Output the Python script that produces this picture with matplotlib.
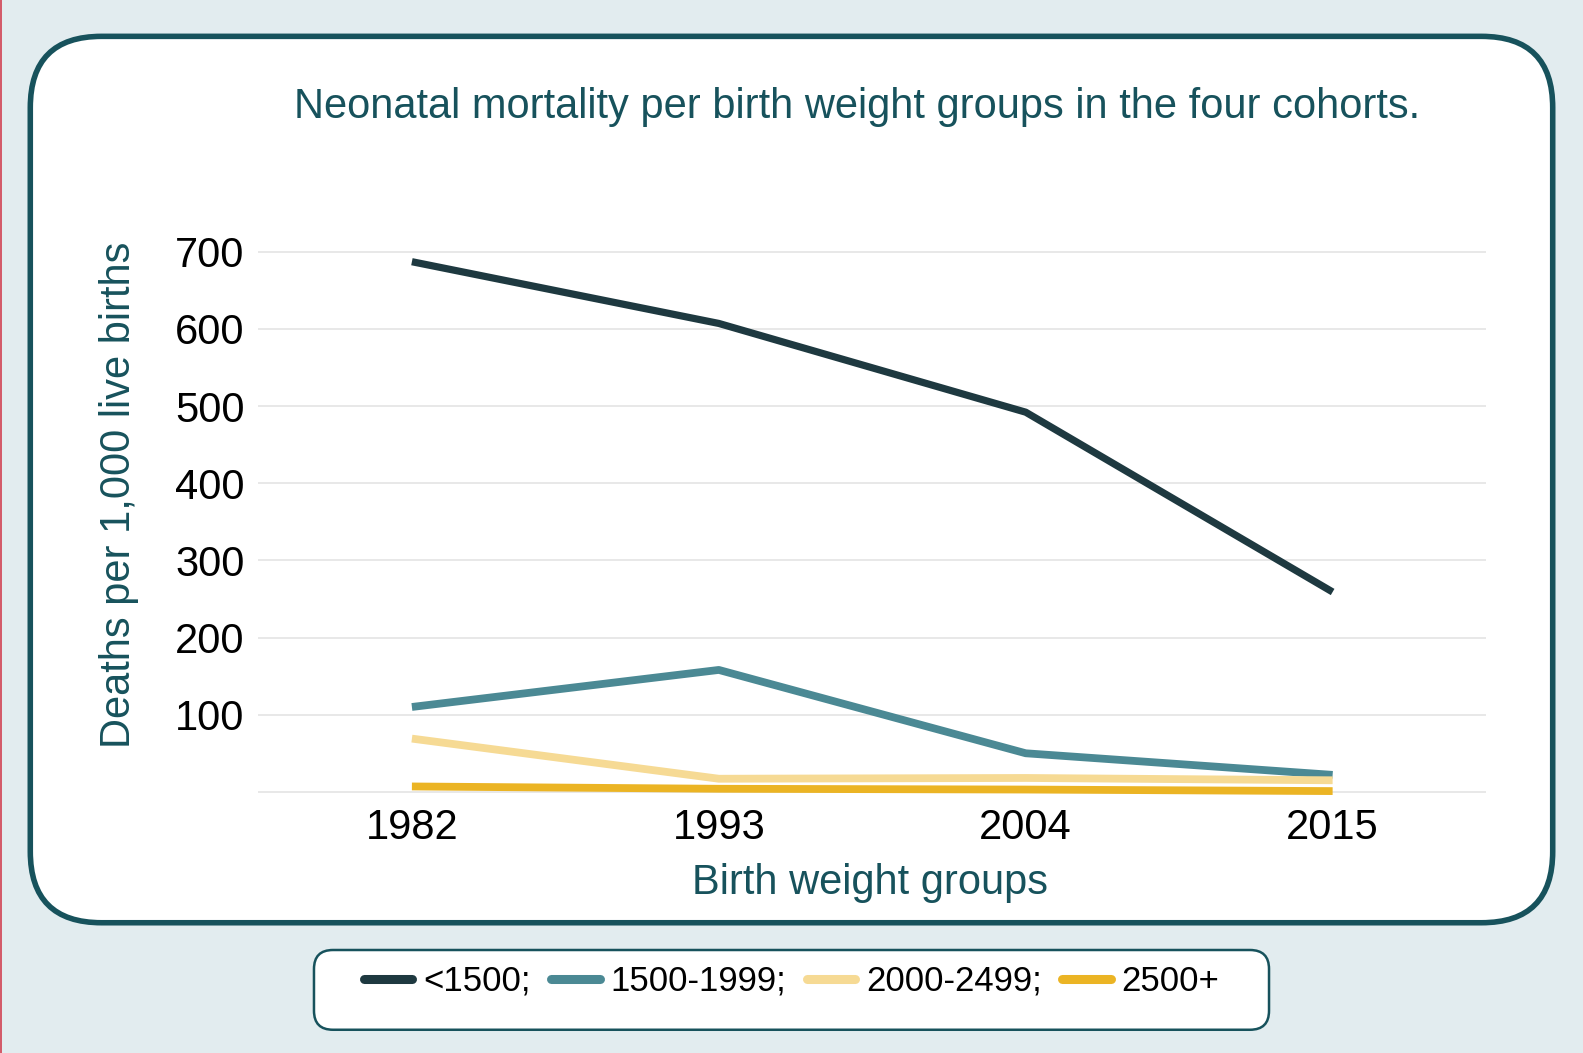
import matplotlib
matplotlib.use("Agg")
import matplotlib.pyplot as plt
from matplotlib.patches import FancyBboxPatch
from matplotlib.lines import Line2D

plt.rcParams['font.family'] = ['Liberation Sans', 'DejaVu Sans']

years = ["1982", "1993", "2004", "2015"]
groups = ["<1500;", "1500-1999;", "2000-2499;", "2500+"]
under_1500 = [687, 607, 492, 259]
w1500_1999 = [110, 158, 50, 22]
w2000_2499 = [69, 17, 18, 15]
w2500_plus = [7, 4, 3, 1]
yticks = [100, 200, 300, 400, 500, 600, 700]

series = [under_1500, w1500_1999, w2000_2499, w2500_plus]
colors = ["#1e3940", "#4b8994", "#f6da94", "#ebb424"]
widths = [5.2, 5.6, 5.6, 5.6]
teal = "#17525c"

W, H = 1583, 1053
S = 1583 / 1568  # pixel readings were taken on a 1568-wide view


def fx(px):
    return px * S / W


def fy(py):
    return 1 - py * S / H


fig = plt.figure(figsize=(W / 100, H / 100), dpi=100)
fig.patch.set_facecolor("#e2ecef")

# thin red edge on the far left of the original
fig.add_artist(Line2D([0.0008, 0.0008], [0, 1], color="#d04050", lw=1.2,
                      transform=fig.transFigure, zorder=-3))

# main rounded panel
panel = FancyBboxPatch((fx(30), fy(914)), fx(1538) - fx(30), fy(36) - fy(914),
                       boxstyle="round,pad=0,rounding_size=0.045",
                       transform=fig.transFigure, facecolor="white",
                       edgecolor=teal, linewidth=4, mutation_aspect=W / H,
                       zorder=-2)
fig.add_artist(panel)

# legend box
lbox = FancyBboxPatch((fx(311), fy(1020)), fx(1257) - fx(311), fy(941) - fy(1020),
                      boxstyle="round,pad=0,rounding_size=0.012",
                      transform=fig.transFigure, facecolor="white",
                      edgecolor=teal, linewidth=1.8, mutation_aspect=W / H,
                      zorder=-2)
fig.add_artist(lbox)

y_bot, y_top = 792, 234
ax = fig.add_axes([fx(256), fy(y_bot), fx(1472) - fx(256), fy(y_top) - fy(y_bot)])
ax.set_zorder(2)
ax.set_facecolor("none")
x = range(len(years))
for vals, c, lw in zip(series, colors, widths):
    ax.plot(x, vals, color=c, lw=lw, solid_capstyle="butt", clip_on=False)

ax.set_xlim(-0.5, 3.5)
ax.set_ylim(-10, 720)
ax.set_xticks(list(x))
ax.set_xticklabels(years)
ax.set_yticks(yticks)
ax.set_yticklabels([str(v) for v in yticks])
ax.tick_params(length=0, labelsize=30, colors="black")
ax.tick_params(axis="y", pad=10)
for lbl in ax.get_yticklabels():
    lbl.set_verticalalignment("center_baseline")
ax.tick_params(axis="x", pad=6)
for v in [0] + yticks:
    ax.axhline(v, color="#e4e4e4", lw=1.2, zorder=0)
for s in ax.spines.values():
    s.set_visible(False)

fig.text(fx(849), fy(106),
         "Neonatal mortality per birth weight groups in the four cohorts.",
         ha="center", va="center", fontsize=30, color=teal)
fig.text(fx(862), fy(875), "Birth weight groups", ha="center", va="center",
         fontsize=30, color=teal)
fig.text(fx(118), fy(490), "Deaths per 1,000 live births", ha="center",
         va="center", rotation=90, fontsize=30, color=teal)

handles = [Line2D([], [], color=c, lw=6.5, solid_capstyle="round") for c in colors]
fig.legend(handles, groups, loc="center", bbox_to_anchor=(fx(784), fy(972)),
           ncol=4, frameon=False, fontsize=25, handlelength=1.4,
           handletextpad=0.3, columnspacing=0.6)

fig.savefig("out.png", dpi=100, facecolor=fig.get_facecolor())
